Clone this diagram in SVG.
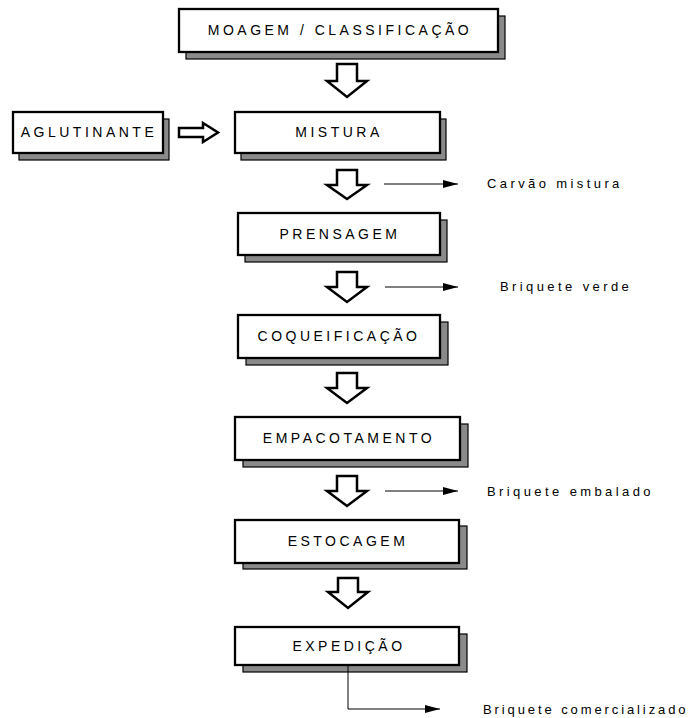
<svg xmlns="http://www.w3.org/2000/svg" width="697" height="718" viewBox="0 0 697 718">
<style>
.sh{fill:#8a8a8a;stroke:#000;stroke-width:1.2}
.bx{fill:#fff;stroke:#000;stroke-width:2.3}
.t{font-family:"Liberation Sans",Arial,sans-serif;font-size:14px;letter-spacing:3.5px;fill:#000;text-anchor:middle}
.l{font-family:"Liberation Sans",Arial,sans-serif;font-size:13px;letter-spacing:3.4px;fill:#000}
.fa{fill:#fff;stroke:#000;stroke-width:2.5;stroke-linejoin:miter}
.ln{stroke:#000;stroke-width:1;fill:none}
</style>
<defs>
<marker id="ah" markerWidth="15" markerHeight="8" refX="15" refY="4" orient="auto" markerUnits="userSpaceOnUse">
<path d="M0,0 L15,4 L0,8 z" fill="#000"/>
</marker>
</defs>
<g id="moagem">
<rect class="sh" x="186" y="16" width="319" height="43"/>
<rect class="bx" x="179" y="9" width="319" height="43"/>
<text class="t" x="340" y="35">MOAGEM / CLASSIFICAÇÃO</text>
</g>
<g id="aglutinante">
<rect class="sh" x="19" y="119" width="150" height="41"/>
<rect class="bx" x="13" y="112" width="150" height="41"/>
<text class="t" x="89" y="137">AGLUTINANTE</text>
</g>
<g id="mistura">
<rect class="sh" x="241" y="119" width="205" height="41"/>
<rect class="bx" x="235" y="112" width="205" height="41"/>
<text class="t" x="339" y="137">MISTURA</text>
</g>
<g id="prensagem">
<rect class="sh" x="245" y="220" width="202" height="42"/>
<rect class="bx" x="238" y="213" width="202" height="42"/>
<text class="t" x="340" y="239">PRENSAGEM</text>
</g>
<g id="coqueificacao">
<rect class="sh" x="246" y="322" width="202" height="43"/>
<rect class="bx" x="238" y="315" width="202" height="43"/>
<text class="t" x="339" y="341">COQUEIFICAÇÃO</text>
</g>
<g id="empacotamento">
<rect class="sh" x="243" y="424" width="225" height="43"/>
<rect class="bx" x="235" y="417" width="225" height="43"/>
<text class="t" x="349" y="443">EMPACOTAMENTO</text>
</g>
<g id="estocagem">
<rect class="sh" x="243" y="526" width="224" height="43"/>
<rect class="bx" x="235" y="520" width="224" height="43"/>
<text class="t" x="348" y="546">ESTOCAGEM</text>
</g>
<g id="expedicao">
<rect class="sh" x="243" y="634" width="224" height="38"/>
<rect class="bx" x="235" y="627" width="224" height="38"/>
<text class="t" x="349" y="651">EXPEDIÇÃO</text>
</g>
<g id="connectors">
<path class="fa" d="M337,64 h20 v17 h10 L347,97 L327,81 h10 z"/>
<path class="fa" d="M179,128 h24 v-5 L218,132.5 L203,142 v-5 h-24 z"/>
<path class="fa" d="M337,170 h20 v15 h10 L347,199 L327,185 h10 z"/>
<path class="fa" d="M337,272 h20 v15 h10 L347,302 L327,287 h10 z"/>
<path class="fa" d="M337,373 h20 v15 h10 L347,403 L327,388 h10 z"/>
<path class="fa" d="M337,476 h20 v15 h10 L347,506 L327,491 h10 z"/>
<path class="fa" d="M338,578 h20 v14 h10 L348,608 L328,592 h10 z"/>
<line class="ln" x1="384" y1="184" x2="458" y2="184" marker-end="url(#ah)"/>
<line class="ln" x1="385" y1="287" x2="458" y2="287" marker-end="url(#ah)"/>
<line class="ln" x1="385" y1="491" x2="458" y2="491" marker-end="url(#ah)"/>
<polyline class="ln" points="348,665 348,709 440,709" marker-end="url(#ah)"/>
</g>
<g id="labels">
<text class="l" x="487" y="188">Carvão mistura</text>
<text class="l" x="500" y="291">Briquete verde</text>
<text class="l" x="487" y="496">Briquete embalado</text>
<text class="l" x="483" y="714" style="letter-spacing:2.9px">Briquete comercializado</text>
</g>
</svg>
